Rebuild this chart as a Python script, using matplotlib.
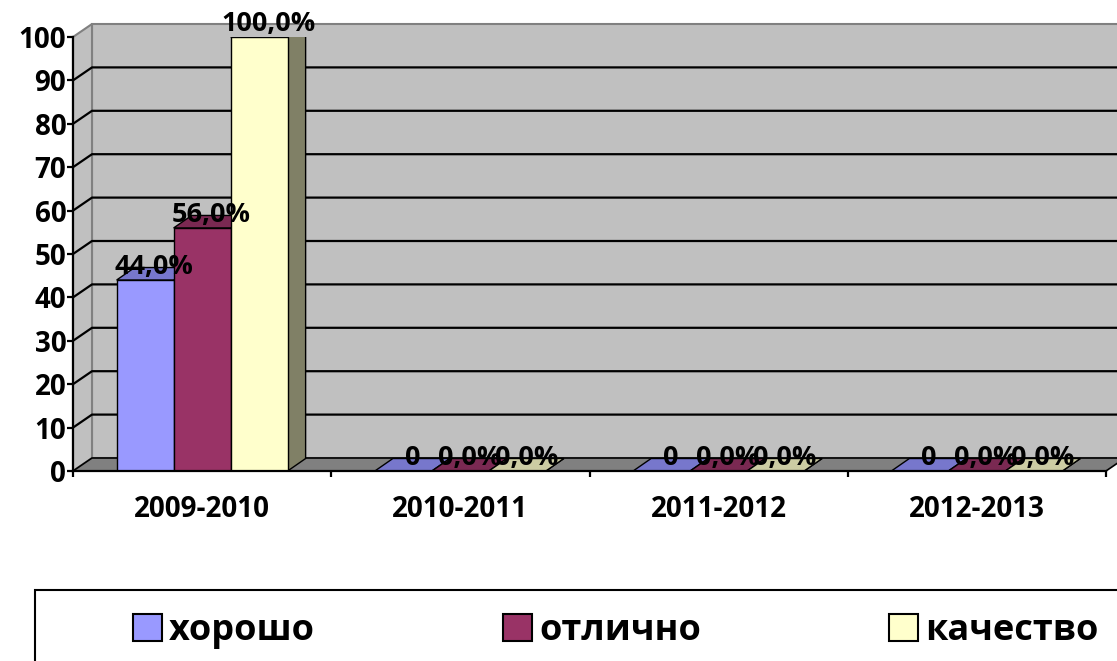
import matplotlib.pyplot as plt
from matplotlib.patches import Polygon, Rectangle, Patch
import numpy as np

# data
categories = ['2009-2010', '2010-2011', '2011-2012', '2012-2013']
series = ['хорошо', 'отлично', 'качество']
good = [44, 0, 0, 0]
excellent = [56, 0, 0, 0]
quality = [100, 0, 0, 0]
good_labels = ['44,0%', '0', '0', '0']
excellent_labels = ['56,0%', '0,0%', '0,0%', '0,0%']
quality_labels = ['100,0%', '0,0%', '0,0%', '0,0%']
y_ticks = list(range(0, 101, 10))

front_c = ['#9999ff', '#993366', '#ffffcc']
top_c = ['#7777cc', '#7a2952', '#cccca3']
side_c = ['#5c5c99', '#5c1f3d', '#808066']

plt.rcParams['font.family'] = ['Open Sans', 'DejaVu Sans']
plt.rcParams['font.weight'] = 'bold'

W, H = 1117, 661
fig = plt.figure(figsize=(W / 100, H / 100), dpi=100)
ax = fig.add_axes([73 / W, 190 / H, 1044 / W, 434 / H])
ax.set_xlim(-0.5, 3.5 + 11 / 258.25)
ax.set_ylim(0, 100)
ax.patch.set_visible(False)
for k in ['top', 'right']:
    ax.spines[k].set_visible(False)
for k in ['left', 'bottom']:
    ax.spines[k].set_linewidth(1.6)
    ax.spines[k].set_zorder(8)
ax.spines['bottom'].set_bounds(-0.5, 3.5)


def depth(px, py):
    # pixel offset -> data offset
    p0 = ax.transData.transform((0, 0))
    d = ax.transData.inverted().transform(p0 + np.array([px, py]))
    return d[0], d[1]


wx, wy = depth(19, 13)   # wall depth
bx, by = depth(18, 12.5)  # bar depth
x0, x1 = -0.5, 3.5
xr = x1 + 1

# walls and floor
ax.add_patch(Polygon([(x0 + wx, wy), (xr, wy), (xr, 100 + wy), (x0 + wx, 100 + wy)],
                     fc='#c0c0c0', ec='#808080', lw=1.5, clip_on=False, zorder=0))
ax.add_patch(Polygon([(x0, 0), (x0 + wx, wy), (x0 + wx, 100 + wy), (x0, 100)],
                     fc='#c0c0c0', ec='#808080', lw=1.5, clip_on=False, zorder=0))
ax.add_patch(Polygon([(x0, 0), (x1, 0), (x1 + wx, wy), (x0 + wx, wy)],
                     fc='#808080', ec='black', lw=1.2, clip_on=False, zorder=1))
for v in y_ticks[1:-1]:
    ax.plot([x0, x0 + wx, xr], [v, v + wy, v + wy], color='black', lw=1.6,
            clip_on=False, zorder=1)

# bars with fake depth
w = 57 / 258.25
for si, (vals, labs) in enumerate([(good, good_labels),
                                   (excellent, excellent_labels),
                                   (quality, quality_labels)]):
    xs = np.arange(len(categories)) + (si - 1) * w
    for x, v in zip(xs, vals):
        r = x + w / 2
        l = x - w / 2
        ax.add_patch(Polygon([(r, 0), (r + bx, by), (r + bx, v + by), (r, v)],
                             fc=side_c[si], ec='black', lw=1, zorder=3 + si))
        ax.add_patch(Polygon([(l, v), (r, v), (r + bx, v + by), (l + bx, v + by)],
                             fc=top_c[si], ec='black', lw=1, zorder=3 + si))
    ax.bar(xs, vals, w, color=front_c[si], edgecolor='black', lw=1, zorder=3 + si)
    for x, v, t in zip(xs, vals, labs):
        ax.annotate(t, (x, v), xytext=(9 * 0.72, 13 * 0.72), textcoords='offset points',
                    ha='center', va='center', fontsize=19.5, fontweight='bold',
                    zorder=10, annotation_clip=False)

ax.set_yticks(y_ticks)
ax.tick_params(axis='y', length=4.3, width=1.6, pad=0.5, labelsize=20)
ax.set_xticks(range(len(categories)))
ax.set_xticklabels(categories)
ax.set_xticks(np.arange(-0.5, 4, 1), minor=True)
ax.tick_params(axis='x', which='major', length=0, pad=17, labelsize=20)
ax.tick_params(axis='x', which='minor', length=4.3, width=1.6)

# legend
fig.add_artist(Rectangle((35 / W, -0.2), 2, 0.2 + (H - 590) / H, transform=fig.transFigure,
                         fc='white', ec='black', lw=1.5))
handles = [Patch(fc=c, ec='black', lw=1.5) for c in front_c]
fig.legend(handles, series, loc='center left', bbox_to_anchor=(133 / W, 1 - 631 / H),
           ncol=3, frameon=False, fontsize=26, handlelength=0.8, handleheight=0.8,
           handletextpad=0.2, columnspacing=5.2, borderpad=0, borderaxespad=0)

fig.savefig('out.png', dpi=100)
